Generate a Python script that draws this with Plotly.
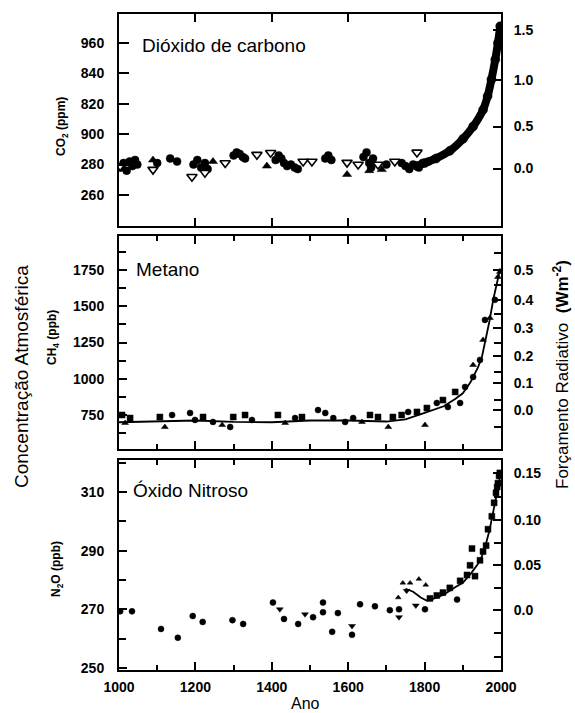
import plotly.graph_objects as go

# ---------------- DATA ----------------
# CO2 (ppm)
co2_circ_year = [1005, 1012, 1020, 1028, 1035, 1042, 1048, 1100, 1134, 1152, 1195, 1205, 1215, 1225, 1232,
                 1300, 1308, 1316, 1324, 1330, 1410, 1418, 1425, 1432, 1440, 1450, 1460, 1468, 1540, 1548,
                 1556, 1640, 1648, 1655, 1660, 1665, 1700, 1740, 1750, 1760, 1770, 1785, 1795, 1810]
co2_circ_val = [278, 281, 276, 282, 279, 283, 280, 281, 284, 282, 280, 283, 278, 281, 277,
                286, 288, 287, 285, 284, 283, 286, 284, 281, 279, 280, 278, 277, 284, 286,
                283, 285, 288, 281, 278, 284, 280, 281, 279, 277, 280, 278, 281, 282]
co2_tdn_year = [1003, 1089, 1191, 1225, 1278, 1361, 1397, 1482, 1505, 1597, 1626, 1678, 1722, 1780]
co2_tdn_val = [279, 276.7, 272, 274.7, 281, 286.5, 287.8, 282, 282, 281.3, 280, 280, 282, 288]
co2_tup_year = [1089, 1246, 1387, 1597, 1655, 1688]
co2_tup_val = [283, 282, 279, 273.5, 276, 276.7]
co2_band_year = [1780, 1800, 1830, 1866, 1901, 1927, 1953, 1965, 1975, 1985, 1992, 1998]
co2_band_val = [279, 281, 284, 289, 297, 305, 316, 325, 336, 349, 360, 371]
co2_ticks = [260, 280, 300, 320, 340, 360]
co2_ticktext = ["260", "280", "900", "820", "840", "960"]
co2_rf_pos = [277.4, 305.0, 335.5, 368.5]
co2_rf_text = ["0.0", "0.5", "1.0", "1.5"]

# CH4 (ppb)
ch4_sq_year = [1008, 1029, 1107, 1220, 1299, 1330, 1416, 1479, 1657, 1678, 1717, 1740, 1780, 1806, 1848, 1880]
ch4_sq_val = [750, 729, 736, 736, 736, 750, 750, 736, 750, 736, 736, 750, 771, 798, 853, 909]
ch4_circ_year = [1139, 1186, 1199, 1246, 1291, 1348, 1461, 1521, 1540, 1561, 1592, 1613, 1757, 1832, 1861,
                 1893, 1906, 1927, 1945, 1958, 1984]
ch4_circ_val = [750, 764, 716, 702, 667, 716, 729, 784, 764, 729, 702, 729, 771, 833, 805,
                833, 943, 1012, 1130, 1406, 1544]
ch4_tri_year = [1016, 1120, 1270, 1435, 1636, 1705, 1801, 1927, 1953, 1971, 1992, 1997]
ch4_tri_val = [695, 667, 681, 695, 702, 667, 681, 1095, 1268, 1419, 1702, 1737]
ch4_line_year = [1000, 1100, 1200, 1300, 1400, 1500, 1600, 1700, 1750, 1800, 1850, 1880, 1900, 1920,
                 1940, 1950, 1960, 1970, 1980, 1990, 1998]
ch4_line_val = [700, 705, 712, 702, 700, 712, 712, 705, 720, 765, 810, 860, 900, 975,
                1080, 1150, 1270, 1400, 1550, 1680, 1760]
ch4_ticks = [750, 1000, 1250, 1500, 1750]
ch4_ticktext = ["750", "1000", "1250", "1500", "1750"]
ch4_minor = [625, 875, 1125, 1375, 1625, 1875]
ch4_rf_pos = [785, 971, 1157, 1350, 1543, 1750]
ch4_rf_text = ["0.0", "0.1", "0.2", "0.3", "0.4", "0.5"]
ch4_rf_minor = [667, 854, 1047, 1247, 1447, 1647, 1868]

# N2O (ppb)
n2o_circ_year = [1003, 1034, 1110, 1154, 1193, 1219, 1297, 1325, 1403, 1432, 1469, 1508, 1534, 1534, 1558,
                 1573, 1610, 1631, 1670, 1709, 1733, 1801, 1885]
n2o_circ_val = [269.3, 269.3, 263.3, 260.3, 267.7, 265.7, 266.3, 265, 272.3, 266.7, 265, 267.3, 272.3, 269,
                262.3, 268.7, 261.3, 271.7, 271, 269.7, 270, 270, 273.3]
n2o_tdn_year = [1421, 1487, 1610, 1733, 1777, 1753]
n2o_tdn_val = [270, 268.3, 264.3, 267.3, 271.3, 276.3]
n2o_tup_year = [1731, 1743, 1762, 1785, 1803]
n2o_tup_val = [274, 279, 279, 280.3, 278.3]
n2o_sq_year = [1814, 1832, 1848, 1866, 1893, 1911, 1919, 1932, 1924, 1945, 1953, 1961, 1966, 1976, 1982,
               1987, 1990, 1992, 1995, 1997]
n2o_sq_val = [273.7, 274.7, 275.7, 277.3, 279.7, 281.7, 285, 281.3, 290.7, 286.7, 289.7, 291.7, 297.3,
              301.7, 306.3, 309.7, 311.7, 313, 315.5, 316.5]
n2o_line_year = [1750, 1770, 1790, 1805, 1820, 1850, 1880, 1900, 1920, 1940, 1950, 1960, 1970, 1980, 1990, 1998]
n2o_line_val = [277, 276, 274, 273, 273.5, 275, 277.5, 279, 282, 285.5, 288, 292, 297, 303, 310, 316]
n2o_ticks = [250, 270, 290, 310]
n2o_ticktext = ["250", "270", "290", "310"]
n2o_minor = [260, 280, 300, 320]
n2o_rf_pos = [269.8, 285.1, 300.5, 316.5]
n2o_rf_text = ["0.0", "0.05", "0.10", "0.15"]
n2o_rf_minor = [253.8, 261.9, 277.3, 292.6, 308.3]

year_ticks = [1000, 1200, 1400, 1600, 1800, 2000]
year_minor = [1100, 1300, 1500, 1700, 1900]

# ---------------- FIGURE ----------------
W, H = 575, 713
BLACK = "black"
FONT = "Liberation Sans, Arial, sans-serif"

def px(v):
    return v / W

def py(v):
    return 1 - v / H

xdom = [px(119), px(501)]
panels = [(14, 226), (236, 449), (460, 670)]

fig = go.Figure()

def mk(x, y, xa, ya, symbol, size, open_=False):
    if open_:
        marker = dict(symbol=symbol, size=size, color="white", line=dict(color=BLACK, width=1.6))
    else:
        marker = dict(symbol=symbol, size=size, color=BLACK, line=dict(color=BLACK, width=0.5))
    fig.add_trace(go.Scatter(x=x, y=y, xaxis=xa, yaxis=ya, mode="markers", marker=marker,
                             showlegend=False, hoverinfo="skip"))

def ln(x, y, xa, ya, width, shape="linear"):
    fig.add_trace(go.Scatter(x=x, y=y, xaxis=xa, yaxis=ya, mode="lines",
                             line=dict(color=BLACK, width=width, shape=shape),
                             showlegend=False, hoverinfo="skip"))

def dummy(xa, ya, yv):
    fig.add_trace(go.Scatter(x=[1500], y=[yv], xaxis=xa, yaxis=ya, mode="markers",
                             marker=dict(opacity=0), showlegend=False, hoverinfo="skip"))

# Panel 1: CO2
ln(co2_band_year, co2_band_val, "x", "y", 8, "spline")
mk(co2_circ_year, co2_circ_val, "x", "y", "circle", 8)
mk(co2_band_year, co2_band_val, "x", "y", "circle", 9)
mk(co2_tup_year, co2_tup_val, "x", "y", "triangle-up", 8)
mk(co2_tdn_year, co2_tdn_val, "x", "y", "triangle-down", 9, open_=True)
dummy("x", "y2", 300)

# Panel 2: CH4
ln(ch4_line_year, ch4_line_val, "x2", "y3", 1.8)
mk(ch4_sq_year, ch4_sq_val, "x2", "y3", "square", 6)
mk(ch4_circ_year, ch4_circ_val, "x2", "y3", "circle", 6)
mk(ch4_tri_year, ch4_tri_val, "x2", "y3", "triangle-up", 6)
dummy("x2", "y4", 1000)

# Panel 3: N2O
ln(n2o_line_year, n2o_line_val, "x3", "y5", 1.8)
mk(n2o_circ_year, n2o_circ_val, "x3", "y5", "circle", 6)
mk(n2o_tdn_year, n2o_tdn_val, "x3", "y5", "triangle-down", 6)
mk(n2o_tup_year, n2o_tup_val, "x3", "y5", "triangle-up", 5)
mk(n2o_sq_year, n2o_sq_val, "x3", "y5", "square", 6)
dummy("x3", "y6", 280)

tickfont = dict(family=FONT, size=14, color=BLACK, weight="bold")

def minor_spec(vals, tl):
    return dict(tickmode="array", tickvals=vals, ticks="inside", ticklen=tl, tickwidth=2,
                tickcolor=BLACK, showgrid=False)

def xaxis(anchor, minor, labels):
    d = dict(domain=xdom, anchor=anchor, range=[1000, 2000], tickmode="array", tickvals=year_ticks,
             ticktext=[str(v) for v in year_ticks],
             ticks="inside", ticklen=8, tickwidth=2, tickcolor=BLACK, showline=True, linewidth=2,
             linecolor=BLACK, mirror="ticks", showgrid=False, zeroline=False,
             showticklabels=labels, tickfont=dict(family=FONT, size=14, color=BLACK, weight="bold"),
             ticklabelstandoff=3, fixedrange=True, automargin=False)
    if minor:
        d["minor"] = minor_spec(year_minor, 5)
    return d

def yleft(anchor_x, dom, rng, vals, text, minor=None, tl=8):
    d = dict(domain=dom, anchor=anchor_x, range=rng, tickmode="array", tickvals=vals, ticktext=text,
             ticks="inside", ticklen=tl, tickwidth=2, tickcolor=BLACK, showline=True, linewidth=2,
             linecolor=BLACK, showgrid=False, zeroline=False, tickfont=tickfont,
             ticklabelstandoff=10, fixedrange=True, automargin=False)
    if minor:
        d["minor"] = minor_spec(minor, 7)
    return d

def yright(anchor_x, over, rng, vals, text, minor=None):
    d = dict(overlaying=over, side="right", anchor=anchor_x, range=rng, tickmode="array",
             tickvals=vals, ticktext=text, ticks="inside", ticklen=8, tickwidth=2, tickcolor=BLACK,
             showline=True, linewidth=2, linecolor=BLACK, showgrid=False, zeroline=False,
             tickfont=tickfont, ticklabelstandoff=8, fixedrange=True, automargin=False)
    if minor:
        d["minor"] = minor_spec(minor, 7)
    return d

doms = [[py(b), py(t)] for (t, b) in panels]

co2_range = [239.6, 379]
ch4_range = [515.5, 1984.5]
n2o_range = [249.3, 320.9]

fig.update_layout(
    width=W, height=H, autosize=False, margin=dict(l=0, r=0, t=0, b=0, pad=0),
    paper_bgcolor="white", plot_bgcolor="white", showlegend=False,
    xaxis=xaxis("y", False, False),
    xaxis2=xaxis("y3", True, False),
    xaxis3=xaxis("y5", True, True),
    yaxis=yleft("x", doms[0], co2_range, co2_ticks, co2_ticktext, tl=10),
    yaxis2=yright("x", "y", co2_range, co2_rf_pos, co2_rf_text),
    yaxis3=yleft("x2", doms[1], ch4_range, ch4_ticks, ch4_ticktext, ch4_minor),
    yaxis4=yright("x2", "y3", ch4_range, ch4_rf_pos, ch4_rf_text, ch4_rf_minor),
    yaxis5=yleft("x3", doms[2], n2o_range, n2o_ticks, n2o_ticktext, n2o_minor),
    yaxis6=yright("x3", "y5", n2o_range, n2o_rf_pos, n2o_rf_text, n2o_rf_minor),
)

def ann(text, x, y, size, angle=0, xanchor="center", bold=False):
    f = dict(family=FONT, size=size, color=BLACK)
    if bold:
        f["weight"] = "bold"
    fig.add_annotation(text=text, x=px(x), y=py(y), xref="paper", yref="paper", showarrow=False,
                       textangle=angle, xanchor=xanchor, yanchor="middle", font=f, borderpad=0)

ann("Dióxido de carbono", 141, 45, 19, xanchor="left")
ann("Metano", 135, 269, 19, xanchor="left")
ann("Óxido Nitroso", 132, 491, 19, xanchor="left")
ann("CO<sub>2</sub> (ppm)", 62, 127, 12, angle=-90, bold=True)
ann("CH<sub>4</sub> (ppb)", 53, 338, 12, angle=-90, bold=True)
ann("N<sub>2</sub>O (ppb)", 57, 569, 12, angle=-90, bold=True)
ann("Concentração Atmosférica", 21, 377, 19, angle=-90)
ann("Forçamento Radiativo  <b>(Wm<sup>-2</sup>)</b>", 561, 375, 17, angle=-90)
ann("Ano", 305, 703, 16)

fig.write_html("out.html", config={"displayModeBar": False},
               post_script="document.body.style.margin='0';document.body.style.overflow='hidden';")
